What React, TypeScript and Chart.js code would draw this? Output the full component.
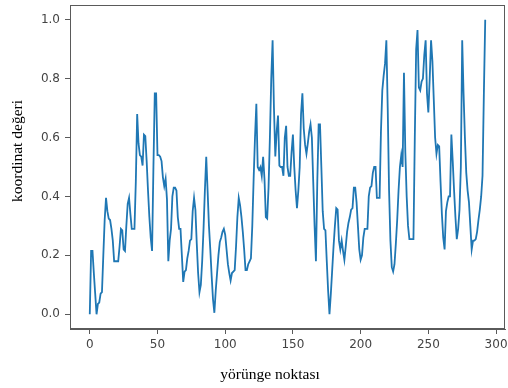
import React, { useEffect, useRef } from "react";
import { Chart, registerables } from "chart.js";

Chart.register(...registerables);

const xTicks = [0, 50, 100, 150, 200, 250, 300];
const yTicks = [0, 0.2, 0.4, 0.6, 0.8, 1.0];
const xLabel = "yörünge noktası";
const yLabel = "koordinat değeri";

const values = [
  0, 0.215, 0.215, 0.14, 0.07, 0.0, 0.035, 0.04, 0.07, 0.075,
  0.2, 0.32, 0.395, 0.35, 0.325, 0.32, 0.29, 0.25, 0.18, 0.18,
  0.18, 0.18, 0.23, 0.29, 0.285, 0.22, 0.215, 0.3, 0.375, 0.395,
  0.34, 0.29, 0.29, 0.29, 0.45, 0.68, 0.58, 0.54, 0.535, 0.505,
  0.61, 0.605, 0.52, 0.42, 0.33, 0.26, 0.215, 0.5, 0.75, 0.75,
  0.54, 0.54, 0.535, 0.52, 0.465, 0.435, 0.46, 0.39, 0.18, 0.25,
  0.29, 0.4, 0.43, 0.43, 0.42, 0.33, 0.29, 0.29, 0.2, 0.11,
  0.145, 0.15, 0.19, 0.215, 0.25, 0.255, 0.35, 0.395, 0.355, 0.24,
  0.14, 0.075, 0.1, 0.18, 0.29, 0.42, 0.535, 0.42, 0.3, 0.22,
  0.13, 0.05, 0.005, 0.08, 0.14, 0.2, 0.245, 0.26, 0.28, 0.29,
  0.27, 0.22, 0.17, 0.14, 0.115, 0.14, 0.145, 0.15, 0.23, 0.33,
  0.395, 0.37, 0.33, 0.28, 0.22, 0.15, 0.15, 0.17, 0.18, 0.19,
  0.3, 0.46, 0.6, 0.715, 0.5, 0.49, 0.5, 0.47, 0.535, 0.46,
  0.33, 0.325, 0.43, 0.6, 0.8, 0.93, 0.7, 0.536, 0.62, 0.675,
  0.505, 0.5, 0.5, 0.47, 0.6, 0.64, 0.5, 0.47, 0.47, 0.55,
  0.61, 0.5, 0.42, 0.36, 0.42, 0.5, 0.68, 0.75, 0.63, 0.575,
  0.545, 0.58, 0.62, 0.645, 0.6, 0.45, 0.3, 0.18, 0.45, 0.645,
  0.645, 0.5, 0.35, 0.29, 0.285, 0.18, 0.08, 0.0, 0.07, 0.15,
  0.23, 0.3, 0.36, 0.355, 0.25, 0.22, 0.25, 0.215, 0.185, 0.23,
  0.28, 0.31, 0.33, 0.355, 0.36, 0.43, 0.43, 0.38, 0.3, 0.22,
  0.185, 0.2, 0.26, 0.29, 0.29, 0.29, 0.4, 0.43, 0.435, 0.48,
  0.5, 0.5, 0.395, 0.395, 0.395, 0.62, 0.76, 0.81, 0.85, 0.93,
  0.7, 0.42, 0.25, 0.16, 0.145, 0.17, 0.24, 0.32, 0.42, 0.5,
  0.54, 0.5, 0.82, 0.55, 0.4, 0.3, 0.255, 0.255, 0.255, 0.255,
  0.6, 0.9, 0.965, 0.77, 0.76, 0.79, 0.8, 0.88, 0.93, 0.75,
  0.685, 0.8, 0.93, 0.86, 0.73, 0.6, 0.545, 0.575, 0.57, 0.45,
  0.34, 0.26, 0.22, 0.35, 0.38, 0.4, 0.4, 0.61, 0.52, 0.42,
  0.33, 0.255, 0.29, 0.355, 0.5, 0.93, 0.75, 0.6, 0.48, 0.42,
  0.38, 0.3, 0.22, 0.25, 0.25, 0.255, 0.28, 0.32, 0.355, 0.4,
  0.47, 0.75, 1.0,
];

const framePlugin = {
  id: "frameAndLabels",
  afterDraw(chart: any) {
    const { ctx, chartArea } = chart;
    const { left, top, right, bottom } = chartArea;
    ctx.save();
    ctx.strokeStyle = "#5a5a5a";
    ctx.lineWidth = 1;
    ctx.strokeRect(left + 0.5, top + 0.5, right - left - 1, bottom - top - 1);
    ctx.fillStyle = "#000";
    ctx.font = "15.5px 'Liberation Serif', 'Times New Roman', serif";
    ctx.textAlign = "center";
    ctx.textBaseline = "middle";
    ctx.fillText(xLabel, left + 200, bottom + 46);
    ctx.translate(left - 52, top + 146);
    ctx.rotate(-Math.PI / 2);
    ctx.fillText(yLabel, 0, 0);
    ctx.restore();
  },
};

export default function App() {
  const ref = useRef<HTMLCanvasElement | null>(null);
  useEffect(() => {
    if (!ref.current) return;
    const tickFont = { family: "'DejaVu Sans', sans-serif", size: 12 };
    const chart = new Chart(ref.current, {
      type: "line",
      data: {
        datasets: [
          {
            data: values.map((v, i) => ({ x: i, y: v })),
            borderColor: "#1f77b4",
            borderWidth: 1.8,
            pointRadius: 0,
            tension: 0,
            fill: false,
          },
        ],
      },
      options: {
        animation: false,
        responsive: false,
        maintainAspectRatio: false,
        layout: { padding: { left: 0, top: 5, right: 3, bottom: 0 } },
        plugins: { legend: { display: false }, tooltip: { enabled: false } },
        scales: {
          x: {
            type: "linear",
            min: -14.6,
            max: 306.6,
            afterBuildTicks: (s: any) => {
              s.ticks = xTicks.map((v) => ({ value: v }));
            },
            afterFit: (s: any) => {
              s.height = 59;
              s.paddingLeft = 0;
              s.paddingRight = 0;
              s.paddingTop = 0;
              s.paddingBottom = 0;
            },
            grid: {
              drawOnChartArea: false,
              drawTicks: true,
              tickLength: 5,
              tickColor: "#5a5a5a",
            },
            border: { display: true, color: "#5a5a5a" },
            ticks: {
              font: tickFont,
              color: "#444",
              padding: 4,
              maxRotation: 0,
              callback: (v: any) => String(v),
            },
          },
          y: {
            type: "linear",
            min: -0.05,
            max: 1.05,
            afterBuildTicks: (s: any) => {
              s.ticks = yTicks.map((v) => ({ value: v }));
            },
            afterFit: (s: any) => {
              s.width = 70;
              s.paddingLeft = 0;
              s.paddingRight = 0;
              s.paddingTop = 0;
              s.paddingBottom = 0;
            },
            grid: {
              drawOnChartArea: false,
              drawTicks: true,
              tickLength: 5,
              tickColor: "#5a5a5a",
            },
            border: { display: true, color: "#5a5a5a" },
            ticks: {
              font: tickFont,
              color: "#444",
              padding: 5,
              callback: (v: any) => Number(v).toFixed(1),
            },
          },
        },
      },
      plugins: [framePlugin],
    });
    return () => chart.destroy();
  }, []);
  return (
    <div style={{ position: "fixed", left: 0, top: 0, width: 508, height: 388, background: "#fff" }}>
      <canvas ref={ref} width={508} height={388} style={{ width: 508, height: 388 }} />
    </div>
  );
}
